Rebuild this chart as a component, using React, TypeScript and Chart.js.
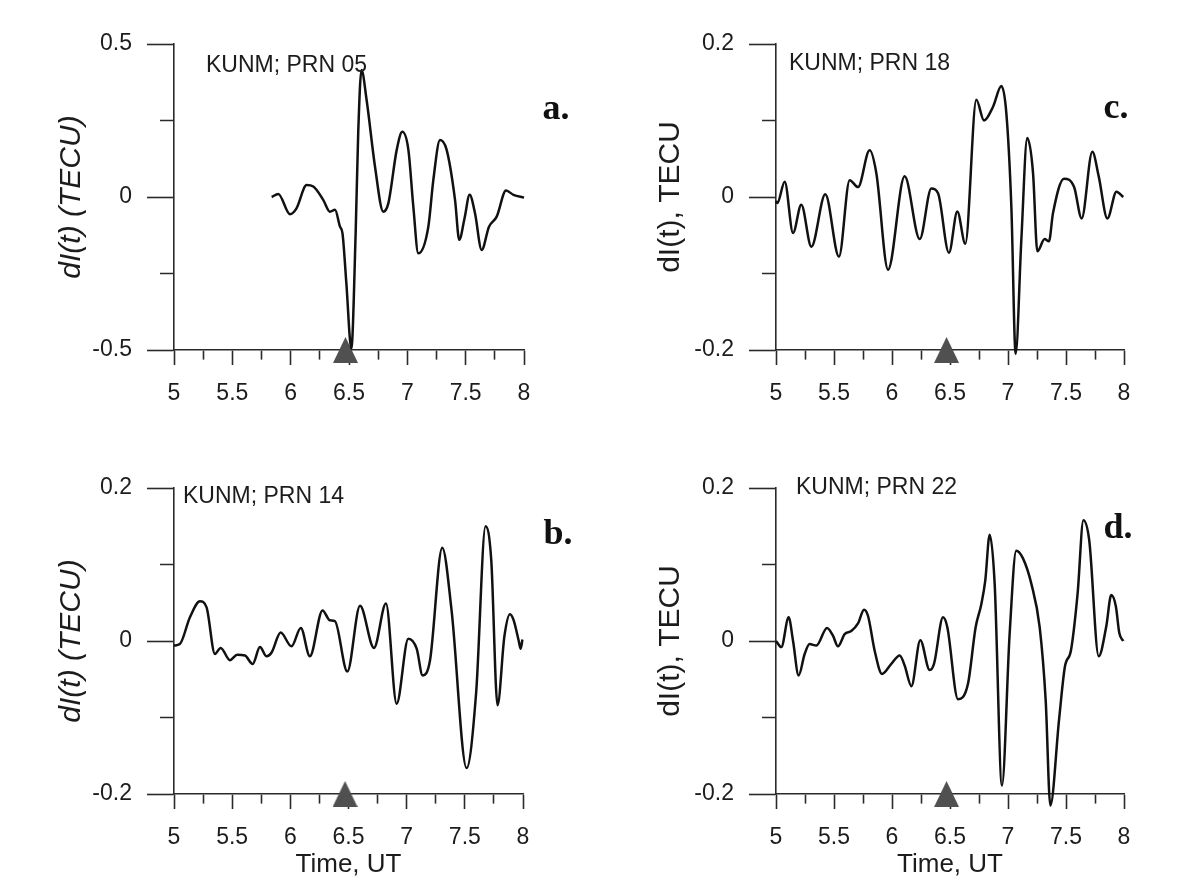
import React, { useEffect, useRef } from 'react';
import { Chart, registerables } from 'chart.js';

Chart.register(...registerables);

// ---------- data ----------
const X_MIN = 5;
const X_MAX = 8;
const X_MAJOR = 0.5;
const X_MINOR = 0.25;
const QUAKE_TIME = 6.47;

const PRN05_T = [5.837, 5.894, 5.994, 6.05, 6.137, 6.194, 6.28, 6.337, 6.38, 6.423, 6.444, 6.477, 6.52, 6.557, 6.579, 6.607, 6.651, 6.723, 6.794, 6.837, 6.909, 6.957, 7.009, 7.051, 7.094, 7.18, 7.223, 7.28, 7.337, 7.409, 7.445, 7.49, 7.534, 7.58, 7.637, 7.70, 7.766, 7.846, 7.91, 8.0];
const PRN05_V = [0.0, 0.01, -0.056, -0.037, 0.039, 0.034, -0.01, -0.048, -0.042, -0.097, -0.118, -0.28, -0.495, -0.118, 0.21, 0.415, 0.317, 0.099, -0.048, -0.021, 0.154, 0.213, 0.154, -0.03, -0.184, -0.097, 0.056, 0.186, 0.154, -0.01, -0.14, -0.07, 0.007, -0.053, -0.173, -0.097, -0.064, 0.021, 0.007, -0.002];

const PRN18_T = [5.0, 5.011, 5.075, 5.147, 5.218, 5.305, 5.425, 5.543, 5.635, 5.707, 5.807, 5.865, 5.966, 6.109, 6.239, 6.339, 6.397, 6.491, 6.563, 6.632, 6.727, 6.793, 6.871, 6.943, 6.986, 7.029, 7.066, 7.115, 7.166, 7.216, 7.253, 7.316, 7.353, 7.388, 7.483, 7.57, 7.635, 7.727, 7.782, 7.857, 7.935, 7.994];
const PRN18_V = [-0.005, -0.008, 0.02, -0.047, -0.01, -0.065, 0.0035, -0.078, 0.022, 0.013, 0.061, 0.031, -0.095, 0.027, -0.055, 0.011, 0.005, -0.073, -0.019, -0.061, 0.127, 0.1, 0.118, 0.145, 0.109, -0.013, -0.205, -0.056, 0.077, 0.031, -0.071, -0.055, -0.058, -0.021, 0.024, 0.013, -0.028, 0.059, 0.027, -0.028, 0.007, 0.0];

const PRN14_T = [5.0, 5.05, 5.137, 5.223, 5.28, 5.352, 5.401, 5.481, 5.544, 5.61, 5.676, 5.739, 5.796, 5.839, 5.917, 6.01, 6.09, 6.168, 6.277, 6.34, 6.383, 6.49, 6.599, 6.719, 6.822, 6.914, 7.014, 7.086, 7.137, 7.2, 7.306, 7.386, 7.515, 7.597, 7.678, 7.727, 7.781, 7.84, 7.888, 7.92, 7.962, 7.98, 7.995];
const PRN14_V = [-0.006, -0.004, 0.031, 0.052, 0.044, -0.017, -0.009, -0.025, -0.018, -0.019, -0.03, -0.008, -0.02, -0.015, 0.011, -0.007, 0.017, -0.02, 0.04, 0.027, 0.026, -0.04, 0.046, -0.009, 0.049, -0.082, 0.003, -0.01, -0.045, -0.026, 0.122, 0.04, -0.166, -0.068, 0.15, 0.106, -0.084, 0.006, 0.035, 0.027, 0.001, -0.01, 0.002];

const PRN22_T = [5.0, 5.046, 5.109, 5.147, 5.195, 5.247, 5.29, 5.348, 5.44, 5.491, 5.534, 5.592, 5.649, 5.707, 5.759, 5.793, 5.851, 5.914, 5.994, 6.066, 6.109, 6.167, 6.244, 6.325, 6.362, 6.44, 6.477, 6.569, 6.655, 6.721, 6.77, 6.804, 6.842, 6.885, 6.948, 7.014, 7.071, 7.129, 7.201, 7.273, 7.325, 7.365, 7.44, 7.49, 7.543, 7.6, 7.65, 7.7, 7.782, 7.847, 7.89, 7.93, 7.96, 7.994];
const PRN22_V = [0.0, -0.008, 0.031, 0.0, -0.045, -0.017, -0.004, -0.006, 0.017, 0.007, -0.007, 0.009, 0.013, 0.023, 0.041, 0.033, -0.013, -0.043, -0.03, -0.019, -0.032, -0.059, 0.001, -0.038, -0.03, 0.031, 0.018, -0.076, -0.056, 0.018, 0.048, 0.079, 0.139, 0.075, -0.189, 0.009, 0.118, 0.108, 0.075, 0.018, -0.078, -0.215, -0.103, -0.034, -0.012, 0.062, 0.158, 0.132, -0.02, 0.019, 0.06, 0.045, 0.01, 0.0];

const Y_RANGE_A = [-0.5, 0.5];
const Y_RANGE_B = [-0.2, 0.2];
const Y_STEP_A = [0.5, 0.25]; // major, minor
const Y_STEP_B = [0.2, 0.1];

const LABELS = ['KUNM; PRN 05', 'KUNM; PRN 18', 'KUNM; PRN 14', 'KUNM; PRN 22'];
const LETTERS = ['a.', 'c.', 'b.', 'd.'];
const Y_TITLES = ['dI(t) (TECU)', 'dI(t), TECU', 'dI(t) (TECU)', 'dI(t), TECU'];
const X_TITLE = 'Time, UT';

// ---------- styling ----------
const SANS = "'Liberation Sans', Arial, Helvetica, sans-serif";
const SERIF = "'Liberation Serif', 'Times New Roman', serif";
const INK = '#1c1c1c';
const AXIS = '#2a2a2a';

const isMajor = (v: number, step: number) => Math.abs(v / step - Math.round(v / step)) < 1e-6;
const fmt = (v: number) => {
  const r = Math.round(v * 1000) / 1000;
  return r === 0 ? '0' : String(r);
};

const panelTextPlugin = {
  id: 'panelText',
  afterDraw(chart: any, _args: any, opts: any) {
    const ctx = chart.ctx;
    for (const it of opts.items || []) {
      ctx.save();
      ctx.font = it.font;
      ctx.fillStyle = it.color || INK;
      ctx.textAlign = it.align || 'left';
      ctx.textBaseline = 'middle';
      ctx.fillText(it.text, it.x, it.y);
      ctx.restore();
    }
  },
};

function makeTriangle(w: number, h: number, color: string) {
  const c = document.createElement('canvas');
  c.width = w;
  c.height = h;
  const g = c.getContext('2d')!;
  g.fillStyle = color;
  g.beginPath();
  g.moveTo(w / 2, 0);
  g.lineTo(w, h);
  g.lineTo(0, h);
  g.closePath();
  g.fill();
  return c;
}

type PanelCfg = {
  left: number; top: number; w: number; h: number;
  area: { l: number; t: number; r: number; b: number };
  t: number[]; v: number[];
  yRange: number[]; yStep: number[];
  label: string; labelPos: [number, number];
  letter: string; letterPos: [number, number];
  yTitle: string; italic: boolean; yTitlePad: number;
  xTitle: boolean;
};

const PANELS: PanelCfg[] = [
  { left: 0, top: 0, w: 590, h: 445, area: { l: 174, t: 44, r: 524, b: 350 }, t: PRN05_T, v: PRN05_V, yRange: Y_RANGE_A, yStep: Y_STEP_A,
    label: LABELS[0], labelPos: [206, 66], letter: LETTERS[0], letterPos: [556, 110], yTitle: Y_TITLES[0], italic: true, yTitlePad: 54, xTitle: false },
  { left: 590, top: 0, w: 593, h: 445, area: { l: 186, t: 44, r: 534, b: 350 }, t: PRN18_T, v: PRN18_V, yRange: Y_RANGE_B, yStep: Y_STEP_B,
    label: LABELS[1], labelPos: [199, 64], letter: LETTERS[1], letterPos: [526, 109], yTitle: Y_TITLES[1], italic: false, yTitlePad: 63, xTitle: false },
  { left: 0, top: 445, w: 590, h: 445, area: { l: 174, t: 43, r: 523, b: 349 }, t: PRN14_T, v: PRN14_V, yRange: Y_RANGE_B, yStep: Y_STEP_B,
    label: LABELS[2], labelPos: [183, 52], letter: LETTERS[2], letterPos: [558, 90], yTitle: Y_TITLES[2], italic: true, yTitlePad: 54, xTitle: true },
  { left: 590, top: 445, w: 593, h: 445, area: { l: 186, t: 43, r: 534, b: 349 }, t: PRN22_T, v: PRN22_V, yRange: Y_RANGE_B, yStep: Y_STEP_B,
    label: LABELS[3], labelPos: [206, 43], letter: LETTERS[3], letterPos: [528, 84], yTitle: Y_TITLES[3], italic: false, yTitlePad: 63, xTitle: true },
];

function Panel({ cfg }: { cfg: PanelCfg }) {
  const ref = useRef<HTMLCanvasElement>(null);
  useEffect(() => {
    const tri = makeTriangle(25, 26, '#505050');
    const [yMajor, yMinor] = cfg.yStep;
    const chart = new Chart(ref.current!, {
      type: 'line',
      data: {
        datasets: [
          {
            data: cfg.t.map((x, i) => ({ x, y: cfg.v[i] })),
            borderColor: '#111',
            borderWidth: 2.5,
            pointRadius: 0,
            cubicInterpolationMode: 'monotone',
            clip: false,
            order: 0,
          } as any,
          {
            data: [{ x: QUAKE_TIME, y: cfg.yRange[0] }],
            showLine: false,
            pointStyle: tri,
            pointRadius: 6,
            clip: false,
            order: 1,
          } as any,
        ],
      },
      options: {
        responsive: false,
        animation: false,
        events: [],
        layout: { padding: { left: 0, top: cfg.area.t, right: cfg.w - cfg.area.r, bottom: 0 } },
        plugins: {
          legend: { display: false },
          tooltip: { enabled: false },
          panelText: {
            items: [
              { text: cfg.label, x: cfg.labelPos[0], y: cfg.labelPos[1], font: `23px ${SANS}`, align: 'left' },
              { text: cfg.letter, x: cfg.letterPos[0], y: cfg.letterPos[1], font: `bold 36px ${SERIF}`, align: 'center', color: '#111' },
            ],
          },
        } as any,
        scales: {
          x: {
            type: 'linear',
            min: X_MIN,
            max: X_MAX,
            afterFit: (s: any) => { s.height = cfg.h - cfg.area.b; },
            ticks: {
              stepSize: X_MINOR,
              autoSkip: false,
              maxRotation: 0,
              padding: 15,
              color: INK,
              font: { family: SANS, size: 23 },
              callback: (v: any) => (isMajor(Number(v), X_MAJOR) ? fmt(Number(v)) : ''),
            },
            grid: {
              drawOnChartArea: false,
              tickLength: 15,
              tickWidth: 1.6,
              tickColor: AXIS,
              color: AXIS,
              tickBorderDash: (c: any) => (c.tick && isMajor(c.tick.value, X_MAJOR) ? [] : [9, 40]),
            },
            border: { display: true, color: AXIS, width: 1.6 },
            title: {
              display: cfg.xTitle,
              text: X_TITLE,
              color: INK,
              font: { family: SANS, size: 26 },
              padding: { top: 0, bottom: 10 },
            },
          },
          y: {
            type: 'linear',
            min: cfg.yRange[0],
            max: cfg.yRange[1],
            afterFit: (s: any) => { s.width = cfg.area.l; },
            ticks: {
              stepSize: yMinor,
              autoSkip: false,
              padding: 15,
              color: INK,
              font: { family: SANS, size: 23 },
              callback: (v: any) => (isMajor(Number(v), yMajor) ? fmt(Number(v)) : ''),
            },
            grid: {
              drawOnChartArea: false,
              tickLength: 27,
              tickWidth: 1.6,
              tickColor: AXIS,
              color: AXIS,
              tickBorderDash: (c: any) => (c.tick && isMajor(c.tick.value, yMajor) ? [] : [0, 13, 30]),
            },
            border: { display: true, color: AXIS, width: 1.6 },
            title: {
              display: true,
              text: cfg.yTitle,
              color: INK,
              font: { family: SANS, size: 30, style: cfg.italic ? 'italic' : 'normal' },
              padding: { top: cfg.yTitlePad, bottom: 0 },
            },
          },
        },
      } as any,
      plugins: [panelTextPlugin],
    });
    return () => chart.destroy();
  }, [cfg]);
  return (
    <canvas
      ref={ref}
      width={cfg.w}
      height={cfg.h}
      style={{ position: 'absolute', left: cfg.left, top: cfg.top, width: cfg.w, height: cfg.h }}
    />
  );
}

export default function App() {
  return (
    <div style={{ position: 'absolute', left: 0, top: 0, width: 1183, height: 890, background: '#fff', overflow: 'hidden' }}>
      {PANELS.map((p, i) => (
        <Panel key={i} cfg={p} />
      ))}
    </div>
  );
}
